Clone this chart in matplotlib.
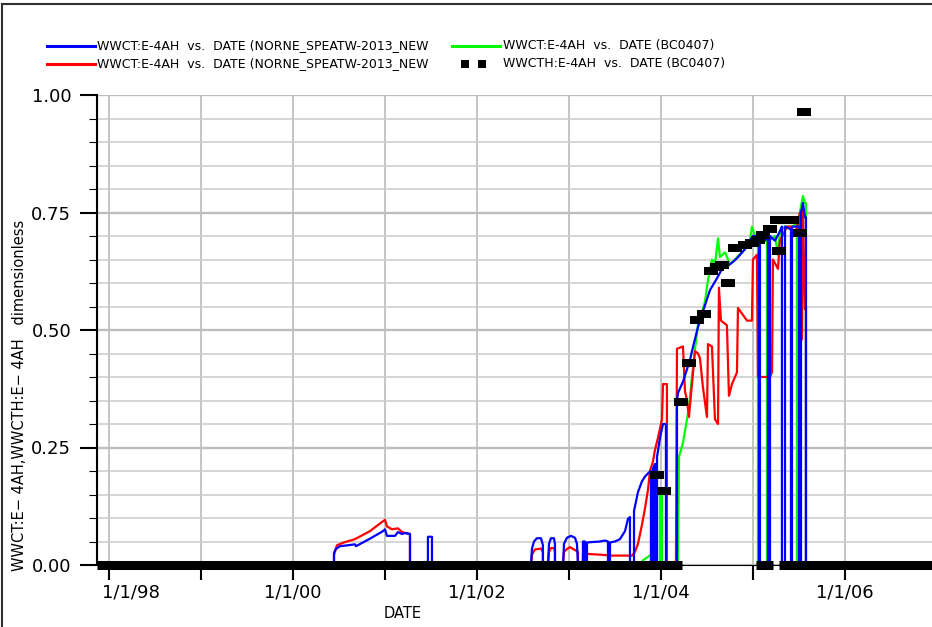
import matplotlib
matplotlib.use("Agg")
import matplotlib.pyplot as plt
import matplotlib.transforms as mtransforms
from matplotlib.lines import Line2D
from matplotlib.ticker import MultipleLocator

# Time axis is in decimal years. Values are water cut (dimensionless).

# WWCT:E-4AH (NORNE_SPEATW-2013_NEW), blue
blue_t = [1997.870, 2000.446, 2000.446, 2000.467, 2000.511, 2000.598, 2000.674, 2000.685,
          2000.837, 2000.978, 2001.000, 2001.022, 2001.109, 2001.141, 2001.185, 2001.217,
          2001.272, 2001.272, 2001.467, 2001.467, 2001.511, 2001.511,
          2002.587, 2002.598, 2002.620, 2002.652, 2002.696, 2002.717, 2002.717,
          2002.772, 2002.783, 2002.804, 2002.837, 2002.848, 2002.848,
          2002.935, 2002.946, 2002.978, 2003.022, 2003.065, 2003.087, 2003.098,
          2003.152, 2003.152, 2003.174, 2003.174, 2003.196, 2003.196, 2003.337, 2003.391,
          2003.424, 2003.424, 2003.446, 2003.446, 2003.500, 2003.554, 2003.609, 2003.641,
          2003.663, 2003.663, 2003.707, 2003.707, 2003.750, 2003.793, 2003.826, 2003.859,
          2003.891, 2003.891, 2003.913, 2003.913, 2003.935, 2003.935, 2003.957, 2003.957,
          2003.989, 2004.022, 2004.054, 2004.054, 2004.174, 2004.174, 2004.185, 2004.239,
          2004.315, 2004.348, 2004.402, 2004.457, 2004.533, 2004.609, 2004.663, 2004.717,
          2004.783, 2004.837, 2004.913, 2004.967, 2005.000, 2005.065, 2005.065, 2005.076,
          2005.076, 2005.130, 2005.163, 2005.163, 2005.185, 2005.185, 2005.239, 2005.293,
          2005.315, 2005.315, 2005.348, 2005.348, 2005.402, 2005.413, 2005.413, 2005.424,
          2005.424, 2005.489, 2005.500, 2005.500, 2005.522, 2005.522, 2005.543, 2005.565,
          2005.576, 2005.576, 2006.946]
blue_v = [0, 0, 0.026, 0.034, 0.040, 0.042, 0.044, 0.040,
          0.056, 0.072, 0.076, 0.062, 0.062, 0.070, 0.066, 0.068,
          0.066, 0, 0, 0.060, 0.060, 0,
          0, 0.035, 0.050, 0.057, 0.057, 0.042, 0,
          0, 0.045, 0.057, 0.057, 0.044, 0,
          0, 0.045, 0.058, 0.062, 0.058, 0.045, 0,
          0, 0.050, 0.050, 0, 0, 0.048, 0.050, 0.052,
          0.050, 0, 0, 0.048, 0.050, 0.055, 0.072, 0.098,
          0.102, 0, 0, 0.115, 0.155, 0.178, 0.188, 0.195,
          0.200, 0, 0, 0.205, 0.215, 0, 0, 0.230,
          0.270, 0.300, 0.300, 0, 0, 0.350, 0.366, 0.390,
          0.436, 0.464, 0.506, 0.540, 0.585, 0.610, 0.630, 0.635,
          0.645, 0.655, 0.672, 0.690, 0.700, 0.700, 0, 0,
          0.705, 0.690, 0.700, 0, 0, 0.700, 0.690, 0.710,
          0.720, 0, 0, 0.720, 0.715, 0.715, 0, 0,
          0.720, 0.720, 0.720, 0, 0, 0.750, 0.770, 0.740,
          0.740, 0, 0]

# WWCT:E-4AH (NORNE_SPEATW-2013_NEW, second case), red
red_t = [1997.870, 2000.446, 2000.446, 2000.478, 2000.554, 2000.674, 2000.837, 2000.957,
         2001.000, 2001.022, 2001.076, 2001.141, 2001.185, 2001.272, 2001.272,
         2002.587, 2002.598, 2002.630, 2002.696, 2002.717, 2002.717,
         2002.772, 2002.783, 2002.804, 2002.837, 2002.848, 2002.848,
         2002.935, 2002.946, 2002.978, 2003.011, 2003.054, 2003.098, 2003.098,
         2003.152, 2003.152, 2003.337, 2003.467, 2003.685, 2003.717, 2003.750, 2003.793,
         2003.826, 2003.859, 2003.880, 2003.913, 2003.935, 2003.967, 2004.011, 2004.022,
         2004.065, 2004.065, 2004.163, 2004.174, 2004.239, 2004.261, 2004.283, 2004.304,
         2004.370, 2004.402, 2004.424, 2004.457, 2004.500, 2004.511, 2004.554, 2004.587,
         2004.620, 2004.630, 2004.652, 2004.717, 2004.739, 2004.772, 2004.826, 2004.837,
         2004.880, 2004.935, 2004.989, 2005.000, 2005.043, 2005.054, 2005.185, 2005.207,
         2005.217, 2005.272, 2005.293, 2005.370, 2005.402, 2005.457, 2005.478, 2005.511,
         2005.533, 2005.543, 2005.565, 2005.576, 2005.576, 2006.946]
red_v = [0, 0, 0.022, 0.042, 0.048, 0.055, 0.072, 0.090,
         0.096, 0.082, 0.076, 0.078, 0.070, 0.066, 0,
         0, 0.022, 0.033, 0.035, 0.028, 0,
         0, 0.028, 0.036, 0.036, 0.028, 0,
         0, 0.028, 0.034, 0.038, 0.033, 0.028, 0,
         0, 0.024, 0.022, 0.020, 0.020, 0.028, 0.045, 0.085,
         0.120, 0.160, 0.200, 0.220, 0.245, 0.270, 0.310, 0.385,
         0.385, 0, 0, 0.460, 0.465, 0.370, 0.350, 0.315,
         0.455, 0.450, 0.440, 0.377, 0.315, 0.470, 0.465, 0.310,
         0.300, 0.590, 0.520, 0.510, 0.360, 0.385, 0.410, 0.547,
         0.535, 0.520, 0.520, 0.650, 0.660, 0.400, 0.400, 0.410,
         0.650, 0.630, 0.690, 0.720, 0.720, 0.700, 0.720, 0.750,
         0.480, 0.760, 0.545, 0.545, 0, 0]

# WWCT:E-4AH (BC0407), green
green_t = [1997.870, 2003.772, 2003.804, 2003.880, 2003.935, 2003.935, 2003.989, 2003.989,
           2004.011, 2004.011, 2004.185, 2004.196, 2004.239, 2004.283, 2004.304, 2004.337,
           2004.370, 2004.402, 2004.478, 2004.511, 2004.554, 2004.587, 2004.620, 2004.641,
           2004.696, 2004.750, 2004.804, 2004.913, 2004.967, 2004.989, 2005.022, 2005.054,
           2005.054, 2005.065, 2005.065, 2005.109, 2005.152, 2005.152, 2005.174, 2005.174,
           2005.239, 2005.272, 2005.293, 2005.348, 2005.413, 2005.478, 2005.478, 2005.500,
           2005.500, 2005.543, 2005.565, 2005.576, 2005.576, 2006.946]
green_v = [0, 0, 0.010, 0.020, 0.028, 0, 0, 0.160,
           0.160, 0, 0, 0.230, 0.260, 0.310, 0.336, 0.400,
           0.460, 0.510, 0.560, 0.606, 0.650, 0.640, 0.695, 0.655,
           0.665, 0.640, 0.650, 0.672, 0.690, 0.720, 0.700, 0.700,
           0, 0, 0.700, 0.690, 0.700, 0, 0, 0.690,
           0.700, 0.660, 0.710, 0.720, 0.720, 0.725, 0, 0,
           0.740, 0.785, 0.770, 0.770, 0, 0]

# WWCTH:E-4AH (BC0407) observed, non-zero points
obs_t = [2003.957, 2004.033, 2004.217, 2004.304, 2004.391, 2004.467, 2004.543, 2004.609,
         2004.663, 2004.728, 2004.804, 2004.913, 2004.989, 2005.054, 2005.109, 2005.185,
         2005.261, 2005.283, 2005.348, 2005.424, 2005.511, 2005.554]
obs_v = [0.191, 0.157, 0.347, 0.430, 0.521, 0.534, 0.626, 0.634,
         0.638, 0.600, 0.674, 0.681, 0.685, 0.691, 0.702, 0.715,
         0.734, 0.668, 0.734, 0.734, 0.706, 0.964]
# periods where the observed water cut is zero (dense observations)
obs_zero_start = [1997.870, 2005.033, 2005.283]
obs_zero_end = [2004.230, 2005.217, 2006.946]

year_ticks = [1998, 1999, 2000, 2001, 2002, 2003, 2004, 2005, 2006]
year_labels = ["1/1/98", "", "1/1/00", "", "1/1/02", "", "1/1/04", "", "1/1/06"]
y_ticks = [0.0, 0.25, 0.5, 0.75, 1.0]
y_labels = ["0.00", "0.25", "0.50", "0.75", "1.00"]

legend_labels = [
    "WWCT:E-4AH  vs.  DATE (NORNE_SPEATW-2013_NEW",
    "WWCT:E-4AH  vs.  DATE (NORNE_SPEATW-2013_NEW",
    "WWCT:E-4AH  vs.  DATE (BC0407)",
    "WWCTH:E-4AH  vs.  DATE (BC0407)",
]

W, H = 932, 627


def fx(x):
    return x / W


def fy(y):
    return 1 - y / H


fig = plt.figure(figsize=(W / 100, H / 100), dpi=100)
ax = fig.add_axes([fx(97), fy(565), 1 - fx(97), fy(95) - fy(565)])

# green underneath, blue on top
ax.plot(green_t, green_v, color="#00ff00", lw=1.6, zorder=2.1)
ax.plot(red_t, red_v, color="#ff0000", lw=1.6, zorder=2.2)
ax.plot(blue_t, blue_v, color="#0000ff", lw=1.6, zorder=2.3)

rect = [(-1, -0.64), (1, -0.64), (1, 0.64), (-1, 0.64), (-1, -0.64)]
ax.hlines([0] * len(obs_zero_start), obs_zero_start, obs_zero_end, colors="black",
          linewidth=6.5, zorder=5, clip_on=False)
ax.plot(obs_t, obs_v, linestyle="none", marker=rect, ms=10, color="black",
        mew=0, zorder=6, clip_on=False)

ax.set_xlim(1997.870, 2006.946)
ax.set_ylim(0, 1.0)

ax.set_xticks(year_ticks)
ax.set_xticklabels(year_labels)
ax.set_yticks(y_ticks)
ax.set_yticklabels(y_labels)
ax.yaxis.set_minor_locator(MultipleLocator(0.05))

ax.tick_params(axis="x", direction="out", length=11, width=1.5, pad=2,
               labelsize=13, colors="black")
ax.tick_params(axis="y", which="major", direction="out", length=12, width=1.5,
               pad=6.5, labelsize=13)
ax.tick_params(axis="y", which="minor", direction="out", length=6, width=0.8)

ax.grid(axis="x", which="major", color="#c4c4c4", lw=1.4)
ax.grid(axis="y", which="major", color="#bdbdbd", lw=1.7)
ax.grid(axis="y", which="minor", color="#cacaca", lw=1.1)
ax.set_axisbelow(True)

for side in ("top", "right"):
    ax.spines[side].set_visible(False)
ax.spines["left"].set_linewidth(1.5)
ax.spines["bottom"].set_linewidth(0.8)

# the first date label sits a little to the right of its tick
first = ax.get_xticklabels()[0]
first.set_transform(first.get_transform()
                    + mtransforms.ScaledTranslation(0.22, 0, fig.dpi_scale_trans))

fig.text(fx(20), fy(395), "WWCT:E\u2212 4AH,WWCTH:E\u2212 4AH   dimensionless",
         rotation=90, ha="center", va="center", fontsize=10.5)
fig.text(fx(403), fy(614), "DATE", ha="center", va="center", fontsize=10.5)

# legend drawn in figure pixels
fig.add_artist(Line2D([fx(47), fx(95)], [fy(46), fy(46)], color="#0000ff", lw=2.2))
fig.add_artist(Line2D([fx(47), fx(95)], [fy(64), fy(64)], color="#ff0000", lw=2.2))
fig.add_artist(Line2D([fx(452), fx(500)], [fy(46), fy(46)], color="#00ff00", lw=2.2))
fig.add_artist(Line2D([fx(465), fx(482)], [fy(64), fy(64)], linestyle="none",
                      marker="s", ms=6, color="black", mew=0))
fig.text(fx(97), fy(46), legend_labels[0], ha="left", va="center", fontsize=9)
fig.text(fx(97), fy(64), legend_labels[1], ha="left", va="center", fontsize=9)
fig.text(fx(503), fy(46), legend_labels[2], ha="left", va="center", fontsize=9)
fig.text(fx(503), fy(64), legend_labels[3], ha="left", va="center", fontsize=9)

# outer frame of the plot window
fig.add_artist(Line2D([fx(2), 1], [fy(4), fy(4)], color="#303030", lw=1.5))
fig.add_artist(Line2D([fx(2), fx(2)], [fy(4), 0], color="#303030", lw=1.5))

fig.savefig("out.png", dpi=100)
